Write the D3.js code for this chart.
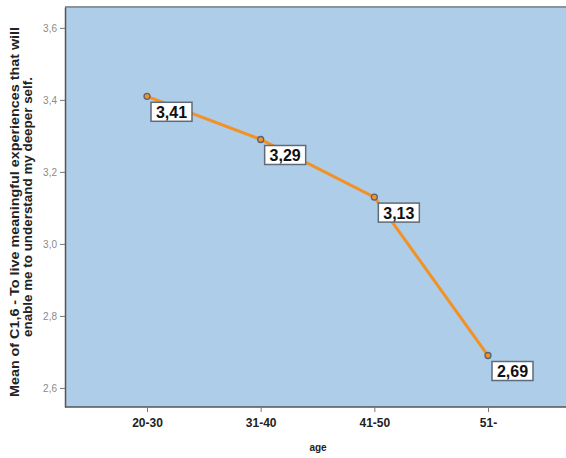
<!DOCTYPE html>
<html>
<head>
    <script src="https://d3js.org/d3.v7.min.js"></script>
    <style>
        body { margin:0; background:white; }
        text { font-family: "Liberation Sans", Arial, sans-serif; }
        .ytick text { fill:#8a8a8a; font-size:10px; }
        .xtick text { fill:#222; font-size:12px; font-weight:bold; }
        .lbl { font-size:16px; font-weight:bold; fill:#111; }
    </style>
</head>
<body>
<script>
    var ageGroups = ["20-30", "31-40", "41-50", "51-"];
    var means = [3.41, 3.29, 3.13, 2.69];
    var yTicks = [2.6, 2.8, 3.0, 3.2, 3.4, 3.6];

    var W = 566, H = 458;
    var plotLeft = 65, plotRight = 566, plotTop = 7, plotBottom = 407;

    var svg = d3.select("body").append("svg")
                .attr("width", W).attr("height", H);

    var x = d3.scalePoint().domain(ageGroups)
              .range([147, 488]);
    var y = d3.scaleLinear().domain([2.547, 3.658])
              .range([plotBottom, plotTop]);

    // plot background
    svg.append("rect")
        .attr("x", plotLeft).attr("y", plotTop)
        .attr("width", plotRight - plotLeft).attr("height", plotBottom - plotTop)
        .attr("fill", "#adcde9");
    svg.append("line")
        .attr("x1", plotLeft).attr("x2", plotRight)
        .attr("y1", plotTop).attr("y2", plotTop)
        .attr("stroke", "#8c9499").attr("stroke-width", 2);

    // axes
    var yAxis = svg.append("g").attr("class", "ytick")
        .attr("transform", "translate(" + plotLeft + ",0)")
        .call(d3.axisLeft(y).tickValues(yTicks).tickSize(5).tickSizeOuter(0)
              .tickFormat(function(d){ return d3.format(".1f")(d).replace(".", ","); }));
    yAxis.select(".domain").attr("stroke", "#555").attr("stroke-width", 1.5);
    yAxis.selectAll(".tick line").attr("stroke", "#777");

    var xAxis = svg.append("g").attr("class", "xtick")
        .attr("transform", "translate(0," + plotBottom + ")")
        .call(d3.axisBottom(x).tickSize(5).tickSizeOuter(0).tickPadding(6));
    xAxis.select(".domain").attr("d", "M" + plotLeft + ",0H" + plotRight)
        .attr("stroke", "#555").attr("stroke-width", 1.5);
    xAxis.selectAll(".tick line").attr("stroke", "#777");

    svg.append("text")
        .attr("x", 318).attr("y", 451)
        .attr("text-anchor", "middle")
        .style("font-size", "10px").style("font-weight", "bold")
        .attr("fill", "#222")
        .text("age");

    // y title, two lines
    svg.append("text")
        .attr("transform", "translate(19,212) rotate(-90)")
        .attr("text-anchor", "middle")
        .attr("textLength", 370).attr("lengthAdjust", "spacingAndGlyphs")
        .style("font-size", "13px").style("font-weight", "bold")
        .attr("fill", "#222")
        .text("Mean of C1,6 - To live meaningful experiences that will");
    svg.append("text")
        .attr("transform", "translate(32,207) rotate(-90)")
        .attr("text-anchor", "middle")
        .attr("textLength", 260).attr("lengthAdjust", "spacingAndGlyphs")
        .style("font-size", "13px").style("font-weight", "bold")
        .attr("fill", "#222")
        .text("enable me to understand my deeper self.");

    // line
    var pts = ageGroups.map(function(g, i){ return {g:g, v:means[i]}; });
    svg.append("path").datum(pts)
        .attr("d", d3.line().x(function(d){ return x(d.g); }).y(function(d){ return y(d.v); }))
        .attr("fill", "none").attr("stroke", "#f39122").attr("stroke-width", 3);

    svg.append("g").selectAll("circle").data(pts)
        .enter().append("circle")
        .attr("cx", function(d){ return x(d.g); })
        .attr("cy", function(d){ return y(d.v); })
        .attr("r", 3)
        .attr("fill", "#f39122").attr("stroke", "#55657a").attr("stroke-width", 1.3);

    // value labels
    var labels = svg.append("g").selectAll("g").data(pts)
        .enter().append("g")
        .attr("transform", function(d){ return "translate(" + (x(d.g) + 4) + "," + (y(d.v) + 6) + ")"; });
    labels.append("rect")
        .attr("width", 41).attr("height", 19)
        .attr("fill", "white").attr("stroke", "#5f6b78").attr("stroke-width", 1.5);
    labels.append("text").attr("class", "lbl")
        .attr("x", 20.5).attr("y", 15.5)
        .attr("text-anchor", "middle")
        .text(function(d){ return d3.format(".2f")(d.v).replace(".", ","); });
</script>
</body>
</html>
